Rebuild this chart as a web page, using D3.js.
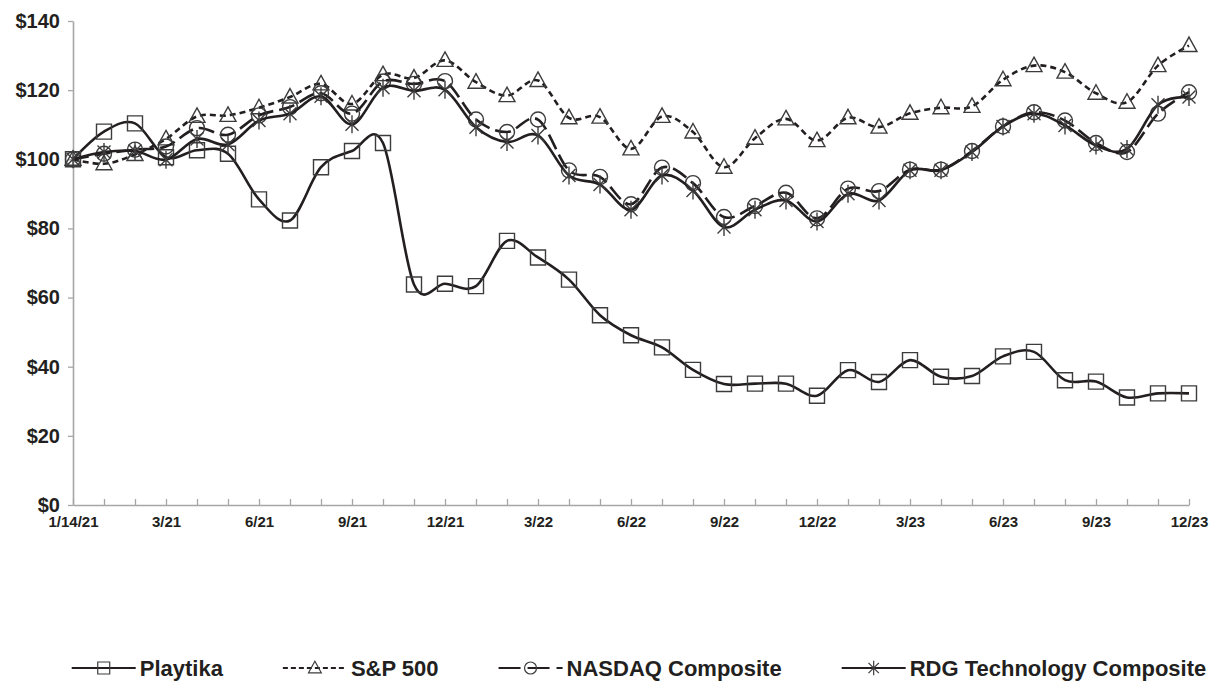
<!DOCTYPE html>
<html>
<head>
<meta charset="utf-8">
<script src="https://cdn.jsdelivr.net/npm/d3@7"></script>
<style>
  body { margin: 0; background: #fff; }
  text { font-family: "Liberation Sans", Arial, sans-serif; font-weight: bold; fill: #231f20; }
</style>
</head>
<body>
<div id="chart"></div>
<script>
// ------------ DATA ------------
var months = ["1/14/21",
  "1/21","2/21","3/21","4/21","5/21","6/21","7/21","8/21","9/21","10/21","11/21","12/21",
  "1/22","2/22","3/22","4/22","5/22","6/22","7/22","8/22","9/22","10/22","11/22","12/22",
  "1/23","2/23","3/23","4/23","5/23","6/23","7/23","8/23","9/23","10/23","11/23","12/23"];

var tickLabels = ["1/14/21","3/21","6/21","9/21","12/21","3/22","6/22","9/22","12/22","3/23","6/23","9/23","12/23"];

var yTicks = [0, 20, 40, 60, 80, 100, 120, 140];

var playtika = [100,108,110.4,100.6,102.6,101.6,88.4,82.3,97.7,102.4,104.7,63.8,64,63.3,76.4,71.6,65.2,54.9,49.1,45.6,39.1,35,35.1,35.1,31.6,39,35.6,41.9,37.1,37.3,43,44.3,36.1,35.7,31.1,32.3,32.3];
var sp500 = [100,98.7,101.4,105.9,112.4,112.7,114.9,118,121.8,116,124.5,123.5,128.6,122.3,118.4,122.8,112,112.2,103,112.4,107.9,97.7,106.1,111.7,105.4,112,109.3,113.3,114.9,115.3,123,127.1,125.2,119.1,116.5,127.1,132.9];
var nasdaq = [100,101.6,102.8,103.7,109,107.1,112.7,115.1,119.1,113.2,122.5,121.8,122.6,111.5,107.9,111.5,96.8,94.9,87,97.6,93.1,83.3,86.5,90.3,82.9,91.5,90.8,97,97,102.4,109.5,113.6,111.2,104.7,102.1,113.2,119.4];
var rdg = [100,102.1,102.4,99.9,105.9,104.3,111.2,113.2,118.2,110.1,120.7,119.8,120.1,109.3,105,106.9,95.3,92.7,85.4,95.3,91,80.4,85.4,88.1,82,90,88.1,96.8,96.8,102.1,109.5,113.2,109.8,104,103,115.8,118];

var seriesNames = ["Playtika", "S&P 500", "NASDAQ Composite", "RDG Technology Composite"];

// ------------ CHART FORMATTING ------------
var svgWidth = 1216;
var svgHeight = 688;

var margin = { top: 21, right: 27, bottom: 183, left: 73 };
var chartWidth = svgWidth - margin.left - margin.right;
var chartHeight = svgHeight - margin.top - margin.bottom;

var ink = "#231f20";
var axisGrey = "#a6a6a6";

var svg = d3.select("#chart")
  .append("svg")
  .attr("width", svgWidth)
  .attr("height", svgHeight);

var chartGroup = svg.append("g")
  .attr("transform", `translate(${margin.left}, ${margin.top})`);

// ------------ SCALES & AXES ------------
var x = d3.scalePoint()
  .domain(months)
  .range([0, chartWidth]);

var y = d3.scaleLinear()
  .domain([0, 140])
  .range([chartHeight, 0]);

var bottomAxis = d3.axisBottom(x)
  .tickValues(months)
  .tickFormat(d => tickLabels.indexOf(d) >= 0 ? d : "")
  .tickSizeInner(-6)
  .tickSizeOuter(0)
  .tickPadding(11);

var leftAxis = d3.axisLeft(y)
  .tickValues(yTicks)
  .tickFormat(d => "$" + d)
  .tickSizeInner(5)
  .tickSizeOuter(0)
  .tickPadding(8);

var yAxisG = chartGroup.append("g").call(leftAxis);
yAxisG.selectAll("text").style("font-size", "20px");

var xAxisG = chartGroup.append("g")
  .attr("transform", "translate(0, " + chartHeight + ")")
  .call(bottomAxis);
xAxisG.selectAll("text").style("font-size", "15px");

[yAxisG, xAxisG].forEach(function(g) {
  g.select(".domain").attr("stroke", axisGrey).attr("stroke-width", 1.6);
  g.selectAll(".tick line").attr("stroke", axisGrey).attr("stroke-width", 1.3);
  g.selectAll("text").attr("fill", ink);
});

// ------------ MARKERS ------------
function markerPath(type) {
  if (type === "square") return "M-7.5,-7.5H7.5V7.5H-7.5Z";
  if (type === "triangle") return "M0,-8.5L8,6L-8,6Z";
  if (type === "circle") return "M7.5,0A7.5,7.5 0 1,1 -7.5,0A7.5,7.5 0 1,1 7.5,0Z";
  // star: vertical + two diagonals
  return "M0,-9V9M-6.5,-6.5L6.5,6.5M-6.5,6.5L6.5,-6.5";
}

var series = [
  { name: seriesNames[0], values: playtika, dash: null, legendDash: null, marker: "square" },
  { name: seriesNames[1], values: sp500, dash: "6,4", legendDash: "5,3", marker: "triangle" },
  { name: seriesNames[2], values: nasdaq, dash: "16,6", legendDash: "22,7", marker: "circle" },
  { name: seriesNames[3], values: rdg, dash: null, legendDash: null, marker: "star" }
];

// ------------ LINES ------------
var line = d3.line()
  .x((d, i) => x(months[i]))
  .y(d => y(d))
  .curve(d3.curveCardinal.tension(0));

series.forEach(function(s) {
  chartGroup.append("path")
    .datum(s.values)
    .attr("d", line)
    .attr("fill", "none")
    .attr("stroke", ink)
    .attr("stroke-width", 2.6)
    .attr("stroke-dasharray", s.dash);

  chartGroup.append("g")
    .selectAll("path")
    .data(s.values)
    .enter()
    .append("path")
      .attr("transform", (d, i) => `translate(${x(months[i])}, ${y(d)})`)
      .attr("d", markerPath(s.marker))
      .attr("fill", "none")
      .attr("stroke", "#3c3c3c")
      .attr("stroke-width", 1.4);
});

// ------------ LEGEND ------------
var legendY = 668;
var sampleLen = 64;
var legendGap = 60;
var legend = svg.append("g");
var cursor = 0;

series.forEach(function(s) {
  var item = legend.append("g").attr("transform", `translate(${cursor}, ${legendY})`);
  item.append("line")
    .attr("x1", 0).attr("x2", sampleLen)
    .attr("y1", 0).attr("y2", 0)
    .attr("stroke", ink)
    .attr("stroke-width", 2.2)
    .attr("stroke-dasharray", s.legendDash);
  item.append("path")
    .attr("transform", `translate(${sampleLen / 2}, 0) scale(0.8)`)
    .attr("d", markerPath(s.marker))
    .attr("fill", "none")
    .attr("stroke", "#3c3c3c")
    .attr("stroke-width", 1.5);
  var t = item.append("text")
    .attr("x", sampleLen + 4)
    .attr("y", 0)
    .attr("dy", "0.35em")
    .style("font-size", "22px")
    .text(s.name);
  cursor += sampleLen + 4 + t.node().getComputedTextLength() + legendGap;
});

var legendWidth = cursor - legendGap;
legend.attr("transform", `translate(${639 - legendWidth / 2}, 0)`);
</script>
</body>
</html>
